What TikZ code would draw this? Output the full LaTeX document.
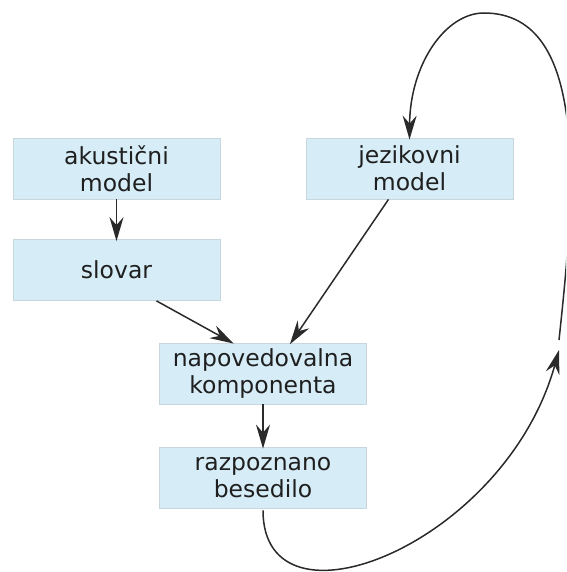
\documentclass[tikz,border=0pt]{standalone}
\usepackage{fontspec}
\setmainfont{DejaVu Sans}
\usetikzlibrary{arrows.meta,calc}
\definecolor{boxfill}{HTML}{D6EDF8}
\definecolor{boxline}{HTML}{C8D6DE}
\definecolor{linecol}{HTML}{2A2A2A}
\begin{document}
\begin{tikzpicture}[x=1pt,y=-1pt,
  blk/.style={fill=boxfill,draw=boxline,line width=0.8pt,minimum width=207pt,minimum height=61pt,
    inner sep=0pt,align=center,font=\fontsize{23.5}{27}\selectfont,text=black!88},
  conn/.style={draw=linecol,line width=1.5pt,-{Stealth[length=24pt,width=14pt,inset=8pt]},shorten >=-2pt},
  plain/.style={draw=linecol,line width=1.5pt}]
\useasboundingbox (0,0) rectangle (566,572);
\clip (0,0) rectangle (566,572);
\node[blk] (ak) at (116.5,168.5) {akustični\\model};
\node[blk] (jez) at (409.5,168.5) {jezikovni\\model};
\node[blk] (slo) at (116.5,270) {slovar};
\node[blk] (nap) at (263,373.5) {napovedovalna\\komponenta};
\node[blk] (raz) at (263,477.5) {razpoznano\\besedilo};
\coordinate (mid) at (559,350);
\coordinate (top) at (484,13);
\draw[conn] (ak.south) -- (slo.north);
\draw[conn] ([xshift=40pt]slo.south) -- ([xshift=-31pt]nap.north);
\draw[conn] ([xshift=-21pt]jez.south) -- ([xshift=28pt]nap.north);
\draw[conn] (nap.south) -- (raz.north);
\draw[conn,shorten >=0pt] ([yshift=-2pt]raz.south) .. controls (263,640) and (505,545) .. (mid);
\draw[plain] ([yshift=10pt]mid) .. controls (574,200) and (592,13) .. (top);
\draw[conn] (top) .. controls (445,13) and (410,65) .. (jez.north);
\end{tikzpicture}
\end{document}
